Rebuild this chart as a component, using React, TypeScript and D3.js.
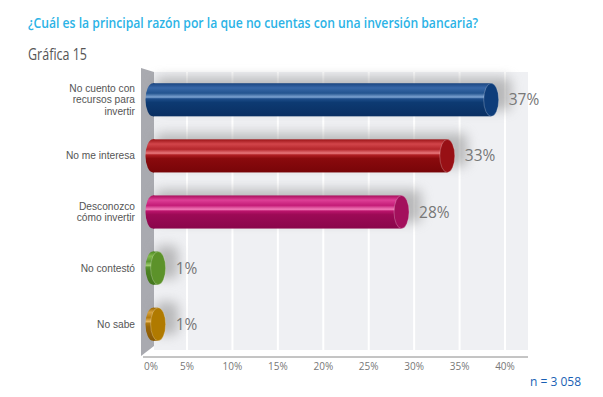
import React from 'react';
import * as d3 from 'd3';

// data
const categories = [
  'No cuento con|recursos para|invertir',
  'No me interesa',
  'Desconozco|cómo invertir',
  'No contestó',
  'No sabe',
];
const values = [37.4, 32.6, 27.6, 1, 1];
const ticks = [0, 5, 10, 15, 20, 25, 30, 35, 40];
const palettes = [
  ['#1b4580', '#3868a8', '#23548f', '#7ea4d2', '#1d4d8a', '#0d3a72', '#0a2f62', '#0e3d7a'],
  ['#9c1418', '#d2454a', '#b4262b', '#e8787c', '#b01f23', '#8a0a0d', '#780508', '#981015'],
  ['#a80e5b', '#de3f96', '#c41c77', '#f27bb8', '#bb146c', '#9c0a56', '#8a064b', '#a3105c'],
  ['#4d8a22', '#82b84c', '#5c9832', '#a0cc70', '#5a9530', '#4c8222', '#43761c', '#5c922a'],
  ['#9c6804', '#d6a03a', '#b47c10', '#e8b860', '#b07a10', '#9a6608', '#8a5a04', '#b07a00'],
];

const W = 603;
const H = 397;

export default function App() {
  // back wall grid
  const xBack = d3.scaleLinear().domain([0, 40]).range([141.6, 505]);
  // front plane for the cylinders
  const xFront = d3.scaleLinear().domain([0, 40]).range([149, 515]);
  const y = d3.scaleBand().domain(categories).range([72, 352]).paddingInner(0.41).paddingOuter(0.2);
  const bh = y.bandwidth();
  const fmt = (v: number) => `${Math.round(v)}%`;

  return (
    <div style={{ margin: -8 }}>
      <svg width={W} height={H} style={{ display: 'block', fontFamily: '"Open Sans", sans-serif' }}>
        <defs>
          {palettes.map((p, i) => (
            <linearGradient key={i} id={`g${i}`} x1="0" y1="0" x2="0" y2="1">
              <stop offset="0" stopColor={p[0]} />
              <stop offset="0.14" stopColor={p[1]} />
              <stop offset="0.3" stopColor={p[2]} />
              <stop offset="0.42" stopColor={p[3]} />
              <stop offset="0.47" stopColor={p[4]} />
              <stop offset="0.58" stopColor={p[5]} />
              <stop offset="1" stopColor={p[6]} />
            </linearGradient>
          ))}
          <filter id="blur" x="-50%" y="-80%" width="200%" height="260%">
            <feGaussianBlur stdDeviation="6" />
          </filter>
        </defs>

        <rect width={W} height={H} fill="#fff" />

        <text x={28} y={28} fontSize={14.5} fontWeight={600} fill="#2bb3e6" textLength={450} lengthAdjust="spacingAndGlyphs">
          ¿Cuál es la principal razón por la que no cuentas con una inversión bancaria?
        </text>
        <text x={28} y={60} fontSize={15.5} fill="#555" textLength={59} lengthAdjust="spacingAndGlyphs">
          Gráfica 15
        </text>

        {/* back wall */}
        <rect x={154} y={72} width={528 - 154} height={278} fill="#eff0f3" />
        {ticks.slice(1).map((t) => (
          <line key={t} x1={xBack(t)} x2={xBack(t)} y1={72} y2={350} stroke="#fff" strokeWidth={2} />
        ))}
        {/* left side wall */}
        <polygon points="141,68 154,72 154,346 141,356" fill="#a9aab0" />

        {/* axis */}
        <line x1={143} x2={528} y1={357} y2={357} stroke="#8a8a8a" strokeWidth={1} />
        {ticks.map((t) => (
          <text key={t} x={Math.max(xBack(t), 151)} y={370} fontSize={10} fill="#777" textAnchor="middle">
            {t}%
          </text>
        ))}

        {/* shadows */}
        {categories.map((c, i) => {
          const x1 = xFront(values[i]);
          const y0 = y(c)!;
          return (
            <rect
              key={c}
              x={xFront(0) + 6}
              y={y0 - 6}
              width={x1 - xFront(0) + 14}
              height={bh}
              rx={6}
              fill="#8c8c8c"
              opacity={0.55}
              filter="url(#blur)"
            />
          );
        })}

        {/* cylinders */}
        {categories.map((c, i) => {
          const x0 = xFront(0);
          const x1 = xFront(values[i]);
          const y0 = y(c)!;
          const cy = y0 + bh / 2;
          const rx = 7.5;
          return (
            <g key={c}>
              <ellipse cx={x0 + 4} cy={cy} rx={rx} ry={bh / 2} fill={`url(#g${i})`} />
              <rect x={x0 + 4} y={y0} width={x1 - x0 - 4} height={bh} fill={`url(#g${i})`} />
              <ellipse cx={x1} cy={cy} rx={rx} ry={bh / 2} fill={palettes[i][7]} stroke="#ffffff" strokeOpacity={0.35} strokeWidth={0.7} />
              <text x={x1 + rx + 10} y={cy + 5.5} fontSize={15.5} fill="#777">
                {fmt(values[i])}
              </text>
            </g>
          );
        })}

        {/* category labels */}
        {categories.map((c) => {
          const lines = c.split('|');
          const cy = y(c)! + bh / 2;
          const lh = 11.4;
          const top = cy - ((lines.length - 1) * lh) / 2;
          return (
            <text key={c} x={135} fontSize={10.2} fill="#555" textAnchor="end" fontFamily='"Liberation Sans", sans-serif'>
              {lines.map((l, j) => (
                <tspan key={j} x={135} y={top + j * lh + 3.6}>
                  {l}
                </tspan>
              ))}
            </text>
          );
        })}

        <text x={581} y={386} fontSize={12} fill="#1a5fb4" textAnchor="end">
          n = 3 058
        </text>
      </svg>
    </div>
  );
}
